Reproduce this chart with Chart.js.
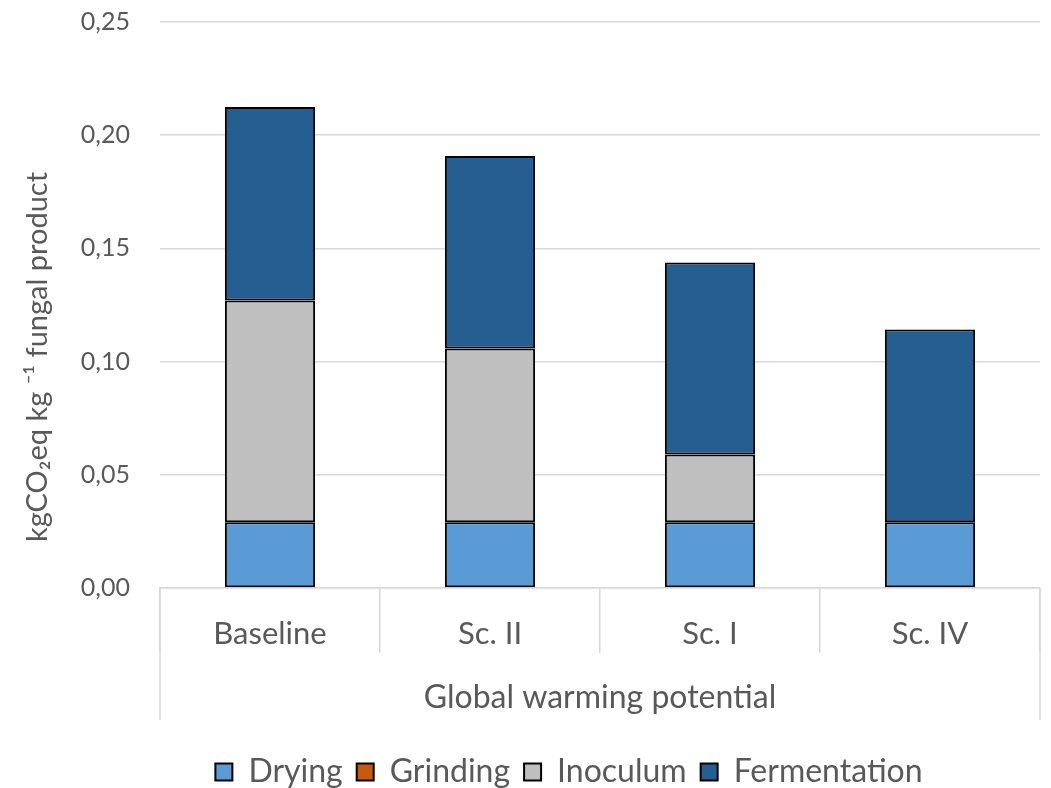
<!DOCTYPE html>
<html>
<head>
<meta charset="utf-8">
<script src="https://cdn.jsdelivr.net/npm/chart.js@4"></script>
<style>
  html, body { margin: 0; padding: 0; background: #fff; }
  canvas { display: block; }
</style>
</head>
<body>
<canvas id="gwpChart" width="1051" height="788"></canvas>
<script>
/* stacked GWP chart — kgCO2eq per kg fungal product */

const CATEGORIES   = ['Baseline', 'Sc. II', 'Sc. I', 'Sc. IV'];
const DRYING       = [0.029, 0.029, 0.029, 0.029];
const GRINDING     = [0, 0, 0, 0];
const INOCULUM     = [0.098, 0.0768, 0.030, 0];
const FERMENTATION = [0.0855, 0.085, 0.0848, 0.0852];
const Y_TICKS      = [0, 0.05, 0.10, 0.15, 0.20, 0.25];

const FONT  = 'Lato';
const INK   = '#595959';
const GRID  = '#d9d9d9';

// outer separators of the multi-level category axis run down past the group label
const groupFrame = {
  id: 'groupFrame',
  afterLayout(chart) {
    // Excel puts the legend a little right of the canvas centre
    const lg = chart.legend;
    const dx = 569 - (lg.left + lg.right) / 2;
    lg.left += dx;
    lg.right += dx;
  },
  afterDraw(chart) {
    const { ctx, chartArea, scales } = chart;
    const bottom = scales.x.bottom - 22;
    ctx.save();
    ctx.strokeStyle = GRID;
    ctx.lineWidth = 1.5;
    [chartArea.left, chartArea.right].forEach(x => {
      ctx.beginPath();
      ctx.moveTo(x, chartArea.bottom);
      ctx.lineTo(x, bottom);
      ctx.stroke();
    });
    ctx.restore();
  }
};

function dataset(label, data, color) {
  return {
    label,
    data,
    backgroundColor: color,
    borderColor: '#000',
    borderWidth: 2,
    borderSkipped: false,
    barPercentage: 0.41,
    categoryPercentage: 1,
  };
}

// Excel centres the axis title a bit lower than the plot; pad the far end
const Y_TITLE = 'kgCO\u2082eq kg \u207B\u00B9 fungal product' + '\u00A0'.repeat(14);

new Chart(document.getElementById('gwpChart'), {
  type: 'bar',
  data: {
    labels: CATEGORIES,
    datasets: [
      dataset('Drying',       DRYING,       '#5b9bd5'),
      dataset('Grinding',     GRINDING,     '#c55a11'),
      dataset('Inoculum',     INOCULUM,     '#bfbfbf'),
      dataset('Fermentation', FERMENTATION, '#255e91'),
    ],
  },
  plugins: [groupFrame],
  options: {
    responsive: false,
    devicePixelRatio: 1,
    animation: false,
    layout: { padding: { left: 0, right: 11, top: 8, bottom: -10 } },
    plugins: {
      tooltip: { enabled: false },
      legend: {
        position: 'bottom',
        labels: {
          color: INK,
          font: { family: FONT, size: 32 },
          boxWidth: 17,
          boxHeight: 17,
          padding: 14,
        },
      },
    },
    scales: {
      x: {
        stacked: true,
        afterFit(scale) { scale.height = 154; },
        border: { display: true, color: GRID, width: 1.5 },
        grid: {
          offset: true,
          drawOnChartArea: false,
          drawTicks: true,
          tickLength: 65,
          color: GRID,
          lineWidth: 1.5,
        },
        ticks: {
          color: INK,
          font: { family: FONT, size: 31 },
          padding: -38,
          maxRotation: 0,
        },
        title: {
          display: true,
          text: 'Global warming potential',
          color: INK,
          font: { family: FONT, size: 32 },
          padding: { top: 10, bottom: 25 },
        },
      },
      y: {
        stacked: true,
        min: 0,
        max: 0.25,
        afterFit(scale) {
          scale.width = 160;
          scale.paddingTop = 22;
        },
        afterBuildTicks(scale) { scale.ticks = Y_TICKS.map(v => ({ value: v })); },
        border: { display: false },
        grid: { color: GRID, lineWidth: 1.5, drawTicks: false },
        ticks: {
          color: INK,
          font: { family: FONT, size: 25 },
          padding: 30,
          callback: v => v.toFixed(2).replace('.', ','),
        },
        title: {
          display: true,
          text: Y_TITLE,
          color: INK,
          font: { family: FONT, size: 29 },
          padding: { top: 20, bottom: 0 },
        },
      },
    },
  },
});
</script>
</body>
</html>
